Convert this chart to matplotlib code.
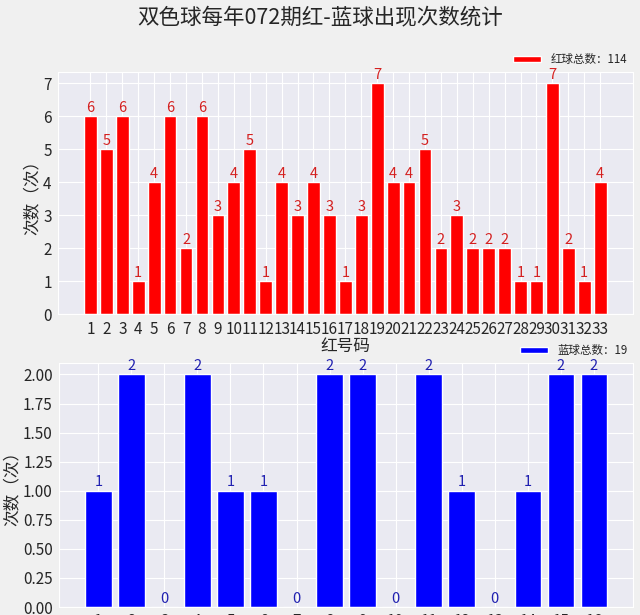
import matplotlib
matplotlib.use("Agg")
import matplotlib.pyplot as plt
from matplotlib.ticker import MultipleLocator, FormatStrFormatter
import seaborn as sns

# red balls 1..33, blue balls 1..16
red_nums = list(range(1, 34))
red_counts = [6, 5, 6, 1, 4, 6, 2, 6, 3, 4, 5, 1, 4, 3, 4, 3, 1,
              3, 7, 4, 4, 5, 2, 3, 2, 2, 2, 1, 1, 7, 2, 1, 4]
blue_nums = list(range(1, 17))
blue_counts = [1, 2, 0, 2, 1, 1, 0, 2, 2, 0, 2, 1, 0, 1, 2, 2]

title = "双色球每年072期红-蓝球出现次数统计"

sns.set_style("darkgrid")
plt.rcParams['font.family'] = ['Noto Sans CJK SC', 'DejaVu Sans']
plt.rcParams['axes.unicode_minus'] = False

fig = plt.figure(figsize=(6.4, 6.15), dpi=100, facecolor='#f0f0f0')
fig.suptitle(title, fontsize=15.5, y=0.972, va='center', color='#262626')

ax1 = fig.add_axes([0.0906, 0.489, 0.898, 0.394])
ax2 = fig.add_axes([0.0922, 0.013, 0.897, 0.397])

def draw(ax, nums, counts, color, txt_color, label, xlabel=None):
    ax.bar(nums, counts, color=color, width=0.8, label=label)
    for n, c in zip(nums, counts):
        ax.annotate(str(c), (n, c), xytext=(0, 1), textcoords='offset points',
                    ha='center', va='bottom', color=txt_color, fontsize=10.5)
    ax.set_xticks(nums)
    ax.set_ylabel("次数（次）", fontsize=12, labelpad=2)
    if xlabel:
        ax.set_xlabel(xlabel, fontsize=12, labelpad=0)
    ax.tick_params(labelsize=11, pad=1)
    ax.legend(loc='lower right', bbox_to_anchor=(1.0, 1.0), frameon=False,
              fontsize=8.3, handlelength=2.4, handleheight=0.5,
              borderaxespad=0.1)

draw(ax1, red_nums, red_counts, 'red', '#d42020',
     "红球总数：%d" % sum(red_counts), xlabel="红号码")
ax1.yaxis.set_major_locator(MultipleLocator(1))

draw(ax2, blue_nums, blue_counts, 'blue', '#2020b0',
     "蓝球总数：%d" % sum(blue_counts))
ax2.yaxis.set_major_locator(MultipleLocator(0.25))
ax2.yaxis.set_major_formatter(FormatStrFormatter('%.2f'))

fig.savefig("out.png", dpi=100, facecolor=fig.get_facecolor())
